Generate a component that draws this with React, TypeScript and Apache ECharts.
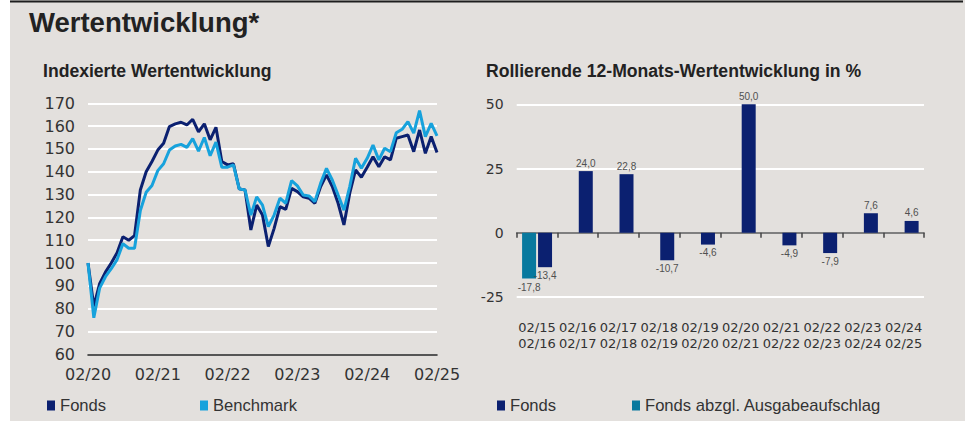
import React, { useEffect, useRef } from "react";
import * as echarts from "echarts";

// ---------- data ----------
const yearTicks = ["02/20", "02/21", "02/22", "02/23", "02/24", "02/25"];

const fondsIndex = [
  100, 81, 91, 96, 100, 104.5, 111.5, 110, 112, 132, 140, 144.5,
  149.5, 152.5, 159.8, 161, 161.7, 160.5, 163, 157.5, 161, 154, 159.5, 144.5,
  143, 143.5, 132.5, 132, 114.5, 125.4, 121, 107.2, 115.2, 124.7, 123.5, 132.7,
  131.3, 129, 128.4, 126.2, 133.5, 138.6, 133.5, 126.2, 116.7, 130.6, 140.8, 137.6,
  142, 146.6, 142.2, 146.6, 145.2, 154.7, 155.4, 156.1, 148.8, 158.3, 148.1, 155.4,
  148.4,
];

const benchmarkIndex = [
  100, 76, 89, 94, 97.5, 101.5, 108.5, 106.5, 106.5, 123, 131, 134,
  140.5, 143.5, 149.5, 151.3, 152, 150.7, 154.5, 149, 155, 147, 153, 142,
  142, 143, 132.5, 132, 121, 129, 125.4, 116, 121, 128.4, 126.2, 136.1,
  133.8, 129.8, 129.4, 126.9, 135, 141.5, 136.4, 129.8, 123.2, 133.5, 145.9, 141.5,
  145.9, 151.7, 145.2, 150.3, 148.8, 157.1, 158.6, 162, 156.9, 166.8, 155.4, 161.2,
  155.7,
];

const periodCategories = [
  "02/15\n02/16",
  "02/16\n02/17",
  "02/17\n02/18",
  "02/18\n02/19",
  "02/19\n02/20",
  "02/20\n02/21",
  "02/21\n02/22",
  "02/22\n02/23",
  "02/23\n02/24",
  "02/24\n02/25",
];

const fondsRolling = [-13.4, 24.0, 22.8, -10.7, -4.6, 50.0, -4.9, -7.9, 7.6, 4.6];
const fondsNetRolling: (number | null)[] = [-17.8, null, null, null, null, null, null, null, null, null];

// ---------- style ----------
const NAVY = "#0b2070";
const LIGHT = "#17a2dc";
const TEAL = "#08799e";
const BG = "#e3e0dd";
const TEXT = "#333333";
const SANS = "Liberation Sans, Arial, sans-serif";
const AXISFONT = "DejaVu Sans, Verdana, sans-serif";

// month category labels for the indexed line chart (02/20 .. 02/25)
const monthCategories: string[] = [];
for (let i = 0; i < fondsIndex.length; i++) {
  const total = 1 + i; // Feb 2020 = month index 1
  const y = 20 + Math.floor(total / 12);
  const m = (total % 12) + 1;
  monthCategories.push(`${String(m).padStart(2, "0")}/${y}`);
}

const fmt = (v: number) => v.toFixed(1).replace(".", ",");

export default function App() {
  const ref = useRef<HTMLDivElement>(null);

  useEffect(() => {
    if (!ref.current) return;
    const chart = echarts.init(ref.current, undefined, { renderer: "svg" });

    const legendBase = {
      orient: "horizontal",
      top: 397,
      padding: 0,
      itemWidth: 8,
      itemHeight: 10,
      selectedMode: false,
      textStyle: { fontSize: 16.6, color: TEXT, fontFamily: SANS },
    };

    chart.setOption({
      animation: false,
      backgroundColor: BG,
      graphic: [
        { type: "rect", shape: { x: 0, y: 0, width: 10, height: 421 }, style: { fill: "#ffffff" }, z: 100 },
        { type: "rect", shape: { x: 10, y: 0.5, width: 953, height: 2 }, style: { fill: "#1e1e1e" }, z: 100 },
      ],
      title: [
        {
          text: "Wertentwicklung*",
          left: 29,
          top: 8,
          padding: 0,
          textStyle: { fontSize: 27.5, fontWeight: "bold", color: "#222", fontFamily: SANS },
        },
        {
          text: "Indexierte Wertentwicklung",
          left: 43,
          top: 62,
          padding: 0,
          textStyle: { fontSize: 17.6, fontWeight: "bold", color: "#222", fontFamily: SANS },
        },
        {
          text: "Rollierende 12-Monats-Wertentwicklung in %",
          left: 486,
          top: 62,
          padding: 0,
          textStyle: { fontSize: 17.6, fontWeight: "bold", color: "#222", fontFamily: SANS },
        },
      ],
      legend: [
        { ...legendBase, left: 47, data: [{ name: "Fonds", icon: "rect", itemStyle: { color: NAVY } }] },
        { ...legendBase, left: 200, data: [{ name: "Benchmark", icon: "rect" }] },
        { ...legendBase, left: 497, data: [{ name: "Fonds", icon: "rect", itemStyle: { color: NAVY } }] },
        { ...legendBase, left: 632, data: [{ name: "Fonds abzgl. Ausgabeaufschlag", icon: "rect" }] },
      ],
      grid: [
        { left: 88, right: 528, top: 103.3, bottom: 66.7 },
        { left: 516.7, right: 41, top: 104.3, bottom: 124 },
      ],
      xAxis: [
        {
          gridIndex: 0,
          type: "category",
          data: monthCategories,
          boundaryGap: false,
          axisLine: { show: true, lineStyle: { color: "#1e1e1e", width: 1.5 } },
          axisTick: { show: false },
          axisLabel: {
            interval: 11,
            margin: 12,
            fontSize: 16,
            color: TEXT,
            fontFamily: AXISFONT,
            formatter: (_v: string, idx: number) => yearTicks[Math.round(idx / 12)] ?? "",
          },
          splitLine: { show: false },
        },
        {
          gridIndex: 1,
          type: "category",
          data: periodCategories,
          axisLine: { show: true, onZero: true, lineStyle: { color: "#555", width: 1.5 } },
          axisTick: { show: true, length: 5, lineStyle: { color: "#444", width: 1.5 } },
          axisLabel: {
            interval: 0,
            margin: 22,
            fontSize: 13,
            lineHeight: 16,
            color: TEXT,
            fontFamily: AXISFONT,
          },
          splitLine: { show: false },
        },
      ],
      yAxis: [
        {
          gridIndex: 0,
          type: "value",
          min: 60,
          max: 170,
          interval: 10,
          axisLine: { show: false },
          axisTick: { show: false },
          axisLabel: { margin: 13, fontSize: 16, color: TEXT, fontFamily: AXISFONT },
          splitLine: { show: true, lineStyle: { color: "#ffffff", width: 2 } },
        },
        {
          gridIndex: 1,
          type: "value",
          min: -25,
          max: 50,
          interval: 25,
          axisLine: { show: false },
          axisTick: { show: false },
          axisLabel: { margin: 13, fontSize: 14, color: TEXT, fontFamily: AXISFONT },
          splitLine: { show: true, lineStyle: { color: "#ffffff", width: 2 } },
        },
      ],
      series: [
        {
          name: "Fonds",
          type: "line",
          xAxisIndex: 0,
          yAxisIndex: 0,
          data: fondsIndex,
          symbol: "none",
          lineStyle: { color: NAVY, width: 3 },
          itemStyle: { color: NAVY },
        },
        {
          name: "Benchmark",
          type: "line",
          xAxisIndex: 0,
          yAxisIndex: 0,
          data: benchmarkIndex,
          symbol: "none",
          lineStyle: { color: LIGHT, width: 3 },
          itemStyle: { color: LIGHT },
        },
        {
          name: "Fonds abzgl. Ausgabeaufschlag",
          type: "bar",
          xAxisIndex: 1,
          yAxisIndex: 1,
          data: fondsNetRolling.map((v) =>
            v === null ? null : { value: v, label: { position: v < 0 ? "bottom" : "top" } }
          ),
          barWidth: 14,
          barGap: "14%",
          itemStyle: { color: TEAL },
          label: {
            show: true,
            distance: 4,
            fontSize: 10,
            color: "#505050",
            fontFamily: SANS,
            formatter: (p: any) => fmt(p.value),
          },
        },
        {
          name: "Fonds",
          type: "bar",
          xAxisIndex: 1,
          yAxisIndex: 1,
          data: fondsRolling.map((v) => ({ value: v, label: { position: v < 0 ? "bottom" : "top" } })),
          barWidth: 14,
          barGap: "14%",
          itemStyle: { color: NAVY },
          label: {
            show: true,
            distance: 3,
            fontSize: 10,
            color: "#505050",
            fontFamily: SANS,
            formatter: (p: any) => fmt(p.value),
          },
        },
      ],
    });

    return () => chart.dispose();
  }, []);

  return (
    <div
      ref={ref}
      style={{ position: "fixed", left: 0, top: 0, width: 965, height: 421, background: "#fff" }}
    />
  );
}
